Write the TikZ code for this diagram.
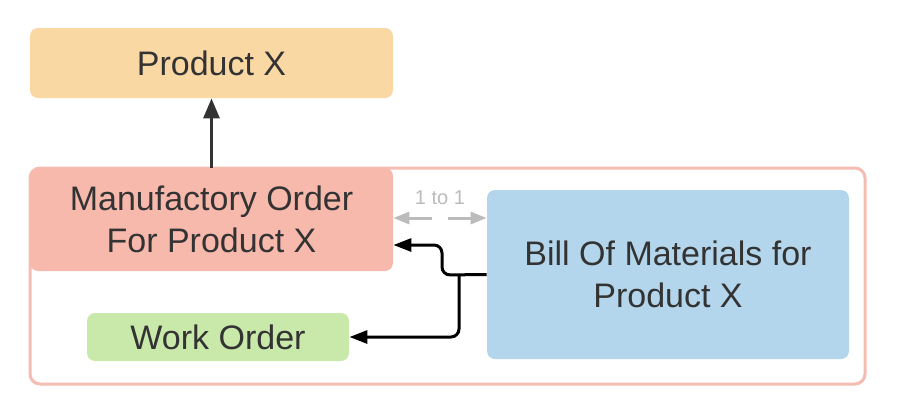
\documentclass[tikz,border=0pt]{standalone}
\usepackage{fontspec}
\setmainfont{Liberation Sans}
\usetikzlibrary{arrows.meta,calc}
\definecolor{orangefill}{HTML}{FAD8A4}
\definecolor{redfill}{HTML}{F8B9AD}
\definecolor{greenfill}{HTML}{C8E9AA}
\definecolor{bluefill}{HTML}{B3D6EC}
\definecolor{framecol}{HTML}{F5BDB2}
\definecolor{ink}{HTML}{333333}
\definecolor{faint}{HTML}{BBBBBB}
\begin{document}
\begin{tikzpicture}[x=0.5pt,y=-0.5pt,
    box/.style={rectangle,rounded corners=4pt,inner sep=0pt,text=ink,
      font=\fontsize{17}{21}\selectfont,align=center},
    conn/.style={line width=1.5pt,rounded corners=4pt,-{Triangle[length=9pt,width=6.5pt]}},
    up/.style={line width=1.5pt,ink,-{Triangle[length=10pt,width=8pt]}},
    onetoone/.style={line width=1.5pt,faint,-{Triangle[length=8pt,width=6pt]}}]
  \useasboundingbox (0,0) rectangle (902,419);
  \node[rectangle,draw=framecol,line width=1.5pt,rounded corners=5pt,
    minimum width=417.5pt,minimum height=108pt] (group) at (447.5,276) {};
  \node[box,fill=orangefill,minimum width=181.5pt,minimum height=35pt] (PX) at (211.5,63) {Product X};
  \node[box,fill=redfill,minimum width=181.5pt,minimum height=51.5pt] (MO) at (211.5,219.5) {Manufactory Order\\For Product X};
  \node[box,fill=greenfill,minimum width=131pt,minimum height=24pt] (WO) at (218,337) {Work Order};
  \node[box,fill=bluefill,minimum width=181pt,minimum height=84.5pt] (BOM) at (668,274.5) {Bill Of Materials for\\Product X};
  \node[text=faint,font=\fontsize{10}{12}\selectfont] (ratio) at (440,198) {1 to 1};
  \coordinate (gapL) at (432,218);
  \coordinate (gapR) at (448,218);
  \coordinate (split) at (459,275);
  \draw[up] (MO.north) -- (PX.south);
  \draw[onetoone] (gapL) -- (MO.east |- gapL);
  \draw[onetoone] (gapR) -- (BOM.west |- gapR);
  \draw[conn] (BOM.west) -- (442,275) -- (442,245) -- (MO.east |- 0,245);
  \draw[conn] (split) |- (WO.east);
\end{tikzpicture}
\end{document}
